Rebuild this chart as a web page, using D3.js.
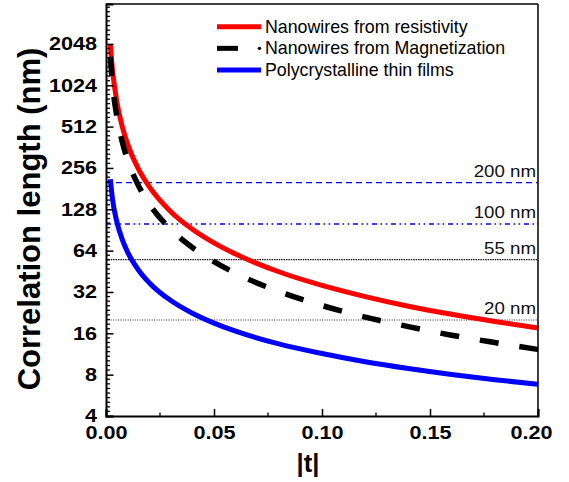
<!DOCTYPE html>
<html>
<head>
<meta charset="utf-8">
<script src="https://cdn.jsdelivr.net/npm/d3@7"></script>
<style>
  html, body { margin: 0; padding: 0; background: #fff; }
  svg { display: block; font-family: Arial, "Liberation Sans", sans-serif; }
</style>
</head>
<body>
<svg id="chart" width="569" height="482"></svg>
<script>
// Reduced temperature |t| sampled along each curve
const tValues = [0.002, 0.003, 0.005, 0.0075, 0.01, 0.015, 0.02, 0.03, 0.04, 0.05,
                 0.06, 0.08, 0.10, 0.12, 0.14, 0.16, 0.18, 0.20];

// Correlation length (nm) for each series
const resistivity   = [2010, 1321, 781, 514, 382, 252, 187, 123, 91.6, 72.9,
                       60.4, 44.9, 35.7, 29.6, 25.2, 22.0, 19.5, 17.5];
const magnetization = [1650, 1050, 610, 398, 293, 191, 140, 91.4, 67.4, 53.2,
                       43.8, 32.3, 25.5, 21.0, 17.9, 15.5, 13.7, 12.2];
const thinFilms     = [212, 152, 104, 77.3, 62.4, 46.3, 37.4, 27.7, 22.4, 19.0,
                       16.6, 13.4, 11.4, 9.93, 8.86, 8.02, 7.35, 6.80];

const seriesNames = ["Nanowires from resistivity", "Nanowires from Magnetization", "Polycrystalline thin films"];

// Horizontal reference lengths
const refValues = [200, 100, 55, 20];
const refLabels = ["200 nm", "100 nm", "55 nm", "20 nm"];

// Axis ticks
const yTicks = [4, 8, 16, 32, 64, 128, 256, 512, 1024, 2048];
const xTicks = [0, 0.05, 0.10, 0.15, 0.20];
const xMinorTicks = [0.025, 0.075, 0.125, 0.175];

const svg = d3.select("#chart");
const L = 106, R = 538, T = 4, B = 416;

const x = d3.scaleLinear().domain([0, 0.2]).range([L, R]);
const y = d3.scaleLog().base(2).domain([4, 4000]).range([B, T]);

// minor ticks: eight per octave, evenly spaced on the log axis
const yMinor = [];
yTicks.concat([4096]).forEach((v, i, arr) => {
  if (i === arr.length - 1) return;
  for (let j = 1; j < 9; j++) {
    const m = v * Math.pow(2, j / 9);
    if (m <= 4000) yMinor.push(m);
  }
});

// ---- reference lines ----
const refStyles = [
  { color: "#0000ff", dash: "6,4",                     width: 1.3 },
  { color: "#0000ff", dash: "5,3.5,1.6,3.5,1.6,3.8",   width: 1.6 },
  { color: "#000000", dash: "1.4,1",                   width: 1.1 },
  { color: "#333333", dash: "1,1.4",                   width: 1.1 }
];
const refG = svg.append("g");
refValues.forEach((v, i) => {
  refG.append("line")
    .attr("x1", x(0)).attr("x2", x(0.2))
    .attr("y1", y(v)).attr("y2", y(v))
    .attr("stroke", refStyles[i].color)
    .attr("stroke-width", refStyles[i].width)
    .attr("stroke-dasharray", refStyles[i].dash);
  refG.append("text")
    .attr("transform", `translate(${x(0.2) - 2},${y(v) - 6}) scale(1.1,1)`)
    .attr("text-anchor", "end")
    .attr("font-size", 17)
    .attr("fill", "#111")
    .text(refLabels[i]);
});

// ---- curves ----
const line = d3.line()
  .x(d => x(d[0]))
  .y(d => y(d[1]))
  .curve(d3.curveMonotoneX);

const series = [
  { values: resistivity,   color: "#ff0000", width: 5,   dash: null },
  { values: thinFilms,     color: "#0000ff", width: 5,   dash: null },
  { values: magnetization, color: "#000000", width: 5.5, dash: "19,21" }
];
series.forEach(s => {
  svg.append("path")
    .datum(tValues.map((t, i) => [t, s.values[i]]))
    .attr("d", line)
    .attr("fill", "none")
    .attr("stroke", s.color)
    .attr("stroke-width", s.width)
    .attr("stroke-dasharray", s.dash)
    .attr("stroke-linejoin", "round");
});

// ---- frame ----
svg.append("line").attr("x1", L).attr("x2", R).attr("y1", T).attr("y2", T)
  .attr("stroke", "#000").attr("stroke-width", 1.5);
svg.append("line").attr("x1", R).attr("x2", R).attr("y1", T).attr("y2", B)
  .attr("stroke", "#000").attr("stroke-width", 1.5);

// ---- y axis ----
const sx = 1.2;
const yAxis = svg.append("g").attr("transform", `translate(${L},0)`)
  .call(d3.axisLeft(y).tickValues(yTicks).tickSize(-7.5).tickPadding(9)
        .tickFormat(d3.format("d")));
yAxis.select(".domain").attr("stroke-width", 2);
yAxis.selectAll(".tick line").attr("stroke-width", 1.5);
yAxis.selectAll(".tick text")
  .attr("font-size", 18).attr("font-weight", "bold").attr("fill", "#000")
  .attr("font-family", "Arial, 'Liberation Sans', sans-serif")
  .attr("x", -9 / sx)
  .attr("transform", `scale(${sx},1)`);
yAxis.selectAll(".minor").data(yMinor).enter().append("line")
  .attr("x1", 0).attr("x2", 4)
  .attr("y1", d => y(d)).attr("y2", d => y(d))
  .attr("stroke", "#000").attr("stroke-width", 1.3);

// ---- x axis ----
const sxX = 1.17;
const xAxis = svg.append("g").attr("transform", `translate(0,${B})`)
  .call(d3.axisBottom(x).tickValues(xTicks).tickSize(-7).tickPadding(0)
        .tickFormat(d3.format(".2f")));
xAxis.select(".domain").attr("stroke-width", 2);
xAxis.selectAll(".tick line").attr("stroke-width", 1.5);
xAxis.selectAll(".tick text")
  .attr("font-size", 18.5).attr("font-weight", "bold").attr("fill", "#000")
  .attr("font-family", "Arial, 'Liberation Sans', sans-serif")
  .attr("dy", null)
  .attr("y", 23)
  .attr("x", (d, i) => (i === xTicks.length - 1 ? -7 : 0) / sxX)
  .attr("transform", `scale(${sxX},1)`);
xAxis.selectAll(".minor").data(xMinorTicks).enter().append("line")
  .attr("x1", d => x(d)).attr("x2", d => x(d))
  .attr("y1", 0).attr("y2", -3.5)
  .attr("stroke", "#000").attr("stroke-width", 1.3);

// ---- axis titles ----
svg.append("text")
  .attr("transform", "translate(39.5,219) rotate(-90)")
  .attr("text-anchor", "middle")
  .attr("font-size", 31).attr("font-weight", "bold")
  .text("Correlation length (nm)");
svg.append("text")
  .attr("x", 308).attr("y", 471.5)
  .attr("text-anchor", "middle")
  .attr("font-size", 25.5).attr("font-weight", "bold")
  .text("|t|");

// ---- legend ----
const legend = svg.append("g").attr("transform", "translate(217,26.7)");
const legendStyles = [
  { color: "#ff0000", dash: null },
  { color: "#000000", dash: "21,50" },
  { color: "#0000ff", dash: null }
];
seriesNames.forEach((name, i) => {
  const g = legend.append("g").attr("transform", `translate(0,${i * 21.65})`);
  g.append("line").attr("x1", 0).attr("x2", 44).attr("y1", 0).attr("y2", 0)
    .attr("stroke", legendStyles[i].color).attr("stroke-width", 5)
    .attr("stroke-dasharray", legendStyles[i].dash);
  if (i === 1) {
    g.append("circle").attr("cx", 42.5).attr("cy", 0).attr("r", 1.7).attr("fill", "#000");
  }
  g.append("text").attr("x", 48).attr("y", 6)
    .attr("font-size", 17.8).attr("fill", "#000")
    .text(name);
});
</script>
</body>
</html>
